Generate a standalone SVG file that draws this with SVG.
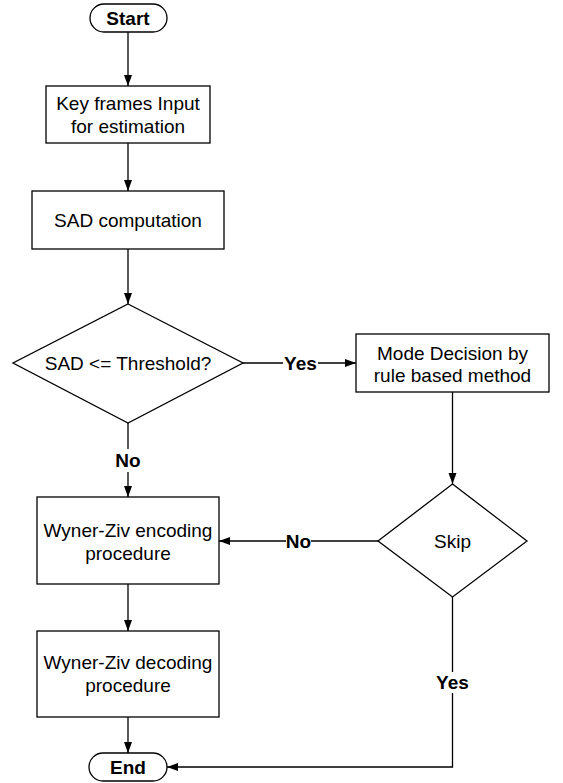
<svg xmlns="http://www.w3.org/2000/svg" width="563" height="783" viewBox="0 0 563 783">
<defs>
<marker id="arr" markerUnits="userSpaceOnUse" markerWidth="12" markerHeight="9" refX="11" refY="4" orient="auto">
<path d="M0,0 L11,4 L0,8 z" fill="#000"/>
</marker>
<style>
.shape{fill:#fff;stroke:#000;stroke-width:1.3}
.t{font-family:"Liberation Sans",Arial,sans-serif;font-size:19px;fill:#000;text-anchor:middle}
.b{font-weight:bold}
.c{fill:none;stroke:#000;stroke-width:1.3}
</style>
</defs>
<rect width="563" height="783" fill="#fff"/>
<g id="connectors">
<path class="c" d="M128,32 V86" marker-end="url(#arr)"/>
<path class="c" d="M128,143 V191" marker-end="url(#arr)"/>
<path class="c" d="M128,249 V304" marker-end="url(#arr)"/>
<path class="c" d="M243,363 H283"/>
<path class="c" d="M318,363 H356" marker-end="url(#arr)"/>
<text class="t b" x="300.5" y="370">Yes</text>
<path class="c" d="M128,423 V449"/>
<path class="c" d="M128,472 V497" marker-end="url(#arr)"/>
<text class="t b" x="128" y="467">No</text>
<path class="c" d="M452.5,392 V484" marker-end="url(#arr)"/>
<path class="c" d="M378,541 H311"/>
<path class="c" d="M286,541 H219" marker-end="url(#arr)"/>
<text class="t b" x="298.5" y="548">No</text>
<path class="c" d="M452.5,597 V672"/>
<path class="c" d="M452.5,693 V767 H167" marker-end="url(#arr)"/>
<text class="t b" x="452.5" y="689">Yes</text>
<path class="c" d="M128,584 V631" marker-end="url(#arr)"/>
<path class="c" d="M128,717 V753" marker-end="url(#arr)"/>
</g>
<g id="start">
<rect class="shape" x="90" y="4" width="77" height="28" rx="14"/>
<text class="t b" x="128" y="25">Start</text>
</g>
<g id="keyframes">
<rect class="shape" x="46" y="86" width="164" height="57"/>
<text class="t" x="128" y="110">Key frames Input</text>
<text class="t" x="128" y="133">for estimation</text>
</g>
<g id="sad">
<rect class="shape" x="32" y="191" width="192" height="58"/>
<text class="t" x="128" y="227">SAD computation</text>
</g>
<g id="threshold">
<polygon class="shape" points="128,304 243,363 128,423 13,363"/>
<text class="t" x="128" y="370">SAD &lt;= Threshold?</text>
</g>
<g id="mode">
<rect class="shape" x="356" y="334" width="193" height="58"/>
<text class="t" x="452.5" y="360">Mode Decision by</text>
<text class="t" x="452.5" y="382">rule based method</text>
</g>
<g id="skip">
<polygon class="shape" points="452.5,484 527,541 452.5,597 378,541"/>
<text class="t" x="452.5" y="548">Skip</text>
</g>
<g id="encoding">
<rect class="shape" x="37" y="497" width="182" height="87"/>
<text class="t" x="128" y="537">Wyner-Ziv encoding</text>
<text class="t" x="128" y="560">procedure</text>
</g>
<g id="decoding">
<rect class="shape" x="37" y="631" width="182" height="86"/>
<text class="t" x="128" y="669">Wyner-Ziv decoding</text>
<text class="t" x="128" y="692">procedure</text>
</g>
<g id="end">
<rect class="shape" x="89" y="753" width="78" height="28" rx="14"/>
<text class="t b" x="128" y="774">End</text>
</g>
</svg>
